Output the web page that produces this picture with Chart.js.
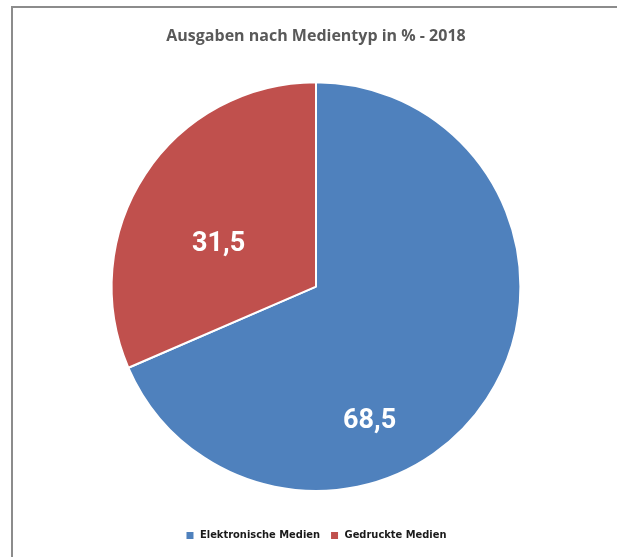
<!DOCTYPE html>
<html>
<head>
<meta charset="utf-8">
<script src="https://cdn.jsdelivr.net/npm/chart.js@4"></script>
<style>
    html, body { margin: 0; padding: 0; background: #fff; }
    #frame {
        position: absolute; left: 11px; top: 6px; width: 700px; height: 700px;
        border-left: 2px solid #8c8c8c; border-top: 2px solid #8c8c8c;
    }
    #wrap { position: absolute; left: 0; top: 0; width: 617px; height: 557px; }
</style>
</head>
<body>
<div id="frame"></div>
<div id="wrap"><canvas id="pieChart"></canvas></div>
<script>
const chartTitle = "Ausgaben nach Medientyp in % - 2018";
const categories = ["Elektronische Medien", "Gedruckte Medien"];
const shares = [68.5, 31.5];
const sliceColors = ["#4f81bd", "#c0504d"];

// value labels inside the slices (Excel "best fit" style)
const sliceLabels = {
    id: "sliceLabels",
    afterDatasetsDraw(chart) {
        const c = chart.ctx;
        const arcs = chart.getDatasetMeta(0).data;
        // angle shift (deg) from mid-angle and radius fraction per slice
        const place = [[35, 0.71], [-9.6, 0.52]];
        c.save();
        c.fillStyle = "#fff";
        c.font = "bold 27px Roboto, sans-serif";
        c.textAlign = "center";
        c.textBaseline = "middle";
        arcs.forEach((arc, i) => {
            const p = arc.getProps(["x", "y", "startAngle", "endAngle", "outerRadius"], true);
            const a = (p.startAngle + p.endAngle) / 2 + place[i][0] * Math.PI / 180;
            const r = p.outerRadius * place[i][1];
            c.fillText(shares[i].toFixed(1).replace(".", ","), p.x + Math.cos(a) * r, p.y + Math.sin(a) * r);
        });
        c.restore();
    }
};

new Chart(document.getElementById("pieChart"), {
    type: "pie",
    data: {
        labels: categories,
        datasets: [{
            data: shares,
            backgroundColor: sliceColors,
            borderColor: "#ffffff",
            borderWidth: 2
        }]
    },
    options: {
        responsive: true,
        maintainAspectRatio: false,
        animation: false,
        layout: { padding: { top: 0, bottom: 6, left: 15, right: 0 } },
        plugins: {
            title: {
                display: true,
                text: chartTitle,
                color: "#595959",
                font: { family: "'Open Sans', sans-serif", size: 16, weight: "bold" },
                padding: { top: 27, bottom: 35 }
            },
            legend: {
                position: "bottom",
                // empty legend title only reserves space above the items
                title: { display: true, text: " ", font: { size: 10 }, padding: { top: 0, bottom: 16 } },
                labels: {
                    boxWidth: 9,
                    boxHeight: 9,
                    padding: 10,
                    color: "#1a1a1a",
                    font: { family: "'DejaVu Sans Condensed', sans-serif", size: 11, weight: "bold" }
                }
            },
            tooltip: { enabled: false }
        }
    },
    plugins: [sliceLabels]
});
</script>
</body>
</html>
